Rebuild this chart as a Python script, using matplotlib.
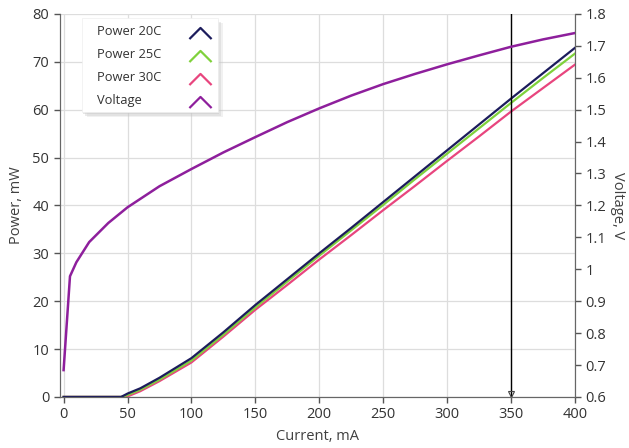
import matplotlib
matplotlib.use("Agg")
import matplotlib.pyplot as plt
from matplotlib.patches import Rectangle
from matplotlib.path import Path
from matplotlib.ticker import FormatStrFormatter, MultipleLocator

plt.rcParams['font.family'] = ['Open Sans', 'DejaVu Sans']

# power curves, mW vs current, mA
current_p = [0, 25, 45, 50, 60, 75, 100, 125, 150, 175, 200, 225, 250, 275, 300, 325, 350, 375, 400]
power_20c = [0, 0, 0, 0.7, 1.8, 4.0, 8.1, 13.5, 19.2, 24.6, 30.0, 35.3, 40.7, 46.1, 51.5, 56.9, 62.3, 67.6, 72.9]
power_25c = [0, 0, 0, 0.4, 1.5, 3.6, 7.6, 13.0, 18.7, 24.1, 29.5, 34.8, 40.1, 45.5, 50.8, 56.1, 61.4, 66.6, 71.7]
power_30c = [0, 0, 0, 0.1, 1.2, 3.3, 7.2, 12.6, 18.2, 23.4, 28.7, 33.8, 39.0, 44.1, 49.3, 54.4, 59.6, 64.5, 69.4]

# voltage curve, V vs current, mA
current_v = [0, 5, 10, 20, 35, 50, 75, 100, 125, 150, 175, 200, 225, 250, 275, 300, 325, 350, 375, 400]
voltage = [0.684, 0.978, 1.022, 1.085, 1.145, 1.194, 1.260, 1.314, 1.366, 1.414, 1.461, 1.504,
           1.544, 1.580, 1.612, 1.642, 1.670, 1.697, 1.720, 1.740]

cursor_x = 350
labels = ['Power 20C', 'Power 25C', 'Power 30C', 'Voltage']

c20 = '#1c1c5c'
c25 = '#7fd13b'
c30 = '#e8457e'
cv = '#8e1f9c'
txt = '#333333'

fig = plt.figure(figsize=(6.29, 4.48), dpi=100)
ax = fig.add_axes([0.095, 0.114, 0.819, 0.855])
ax2 = ax.twinx()

ax.plot(current_p, power_30c, color=c30, lw=1.6, zorder=3)
ax.plot(current_p, power_25c, color=c25, lw=1.6, zorder=4)
ax.plot(current_p, power_20c, color=c20, lw=1.6, zorder=5)
ax2.plot(current_v, voltage, color=cv, lw=1.8)

ax.axvline(cursor_x, color='black', lw=1, zorder=6)
ax.plot([cursor_x], [0.6], marker='v', ms=4, mfc='none', mec='#444444', mew=0.8, zorder=6, clip_on=False)

ax.set_xlim(-3, 400)
ax.set_ylim(0, 80)
ax2.set_ylim(0.6, 1.8)
ax.xaxis.set_major_locator(MultipleLocator(50))
ax.yaxis.set_major_locator(MultipleLocator(10))
ax2.yaxis.set_major_locator(MultipleLocator(0.1))
ax2.yaxis.set_major_formatter(FormatStrFormatter('%g'))

ax.grid(True, color='#dddddd', lw=0.9)
ax.set_axisbelow(True)

for a in (ax, ax2):
    a.spines['top'].set_visible(False)
    for s in ('left', 'right', 'bottom'):
        a.spines[s].set_color('#666666')
    a.tick_params(colors='#555555', labelcolor=txt, labelsize=10.5, length=4, width=1)

ax.set_xlabel('Current, mA', fontsize=10.5, color='#404040', labelpad=5)
ax.set_ylabel('Power, mW', fontsize=10.5, color='#404040', labelpad=6)
ax2.set_ylabel('Voltage, V', fontsize=10.5, color='#404040', rotation=270, va='center')
ax2.yaxis.set_label_coords(1.082, 0.5)

# legend drawn by hand: labels left, chevrons right, soft shadow
tr = ax2.transAxes
x0, x1, y0, y1 = 0.043, 0.307, 0.744, 0.990
for dx, dy, a in [(0.009, -0.014, 0.25), (0.006, -0.010, 0.35), (0.003, -0.005, 0.45)]:
    ax2.add_patch(Rectangle((x0 + dx, y0 + dy), x1 - x0, y1 - y0, transform=tr, facecolor='#c8c8c8',
                            edgecolor='none', alpha=a, zorder=9, clip_on=False))
ax2.add_patch(Rectangle((x0, y0), x1 - x0, y1 - y0, transform=tr, facecolor='white',
                        edgecolor='#eeeeee', lw=0.5, zorder=10, clip_on=False))
chevron = Path([(-1, -0.5), (0, 0.5), (1, -0.5)], [Path.MOVETO, Path.LINETO, Path.LINETO])
row_y = [0.955, 0.895, 0.835, 0.775]
for lab, c, yy in zip(labels, (c20, c25, c30, cv), row_y):
    ax2.text(0.072, yy, lab, transform=tr, fontsize=9.3, color=txt, ha='left', va='center', zorder=11)
    ax2.plot([0.272], [yy - 0.004], transform=tr, marker=chevron, ms=16, mew=1.6, mfc='none',
             mec=c, ls='none', zorder=11, clip_on=False)

fig.savefig('out.png', dpi=100)
